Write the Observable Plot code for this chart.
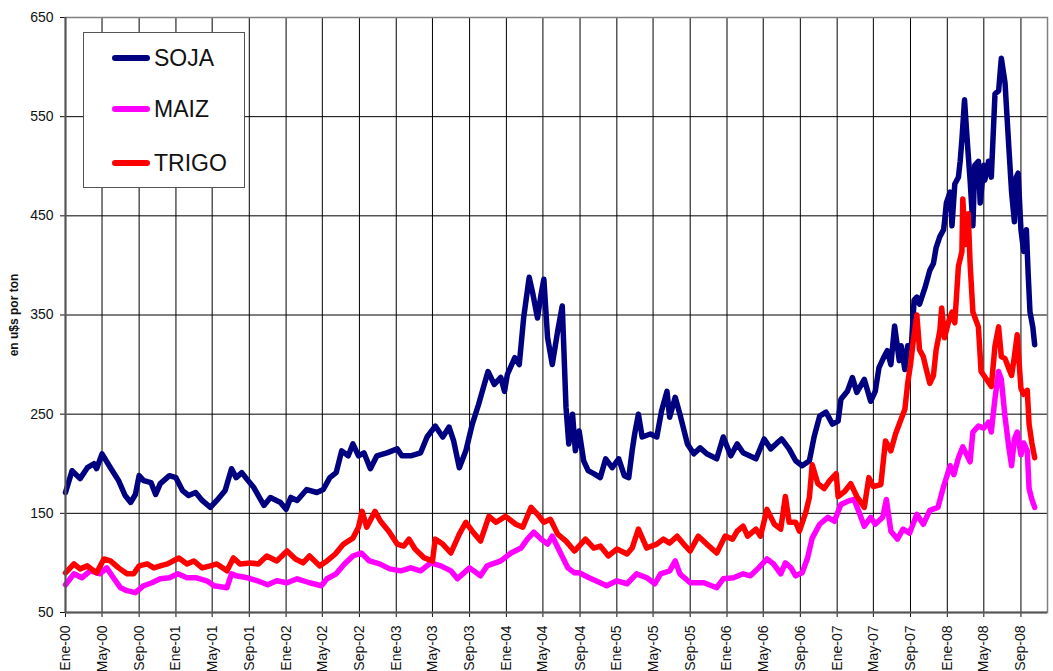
<!DOCTYPE html>
<html>
<head>
<meta charset="utf-8">
<script src="https://cdn.jsdelivr.net/npm/d3@7"></script>
<script src="https://cdn.jsdelivr.net/npm/@observablehq/plot@0.6"></script>
<style>
  body { margin: 0; background: #fff; }
  #wrap { position: relative; width: 1053px; height: 671px; font-family: "Liberation Sans", Arial, sans-serif; }
  #legend { position: absolute; left: 83px; top: 32px; width: 162px; height: 156px; border: 1px solid #555; background: #fff; box-sizing: border-box; }
  .item { position: absolute; left: 28px; height: 26px; display: flex; align-items: center; }
  .sw { width: 38px; height: 6px; border-radius: 3px; margin-right: 4px; }
  .lab { font-size: 23px; color: #111; }
</style>
</head>
<body>
<div id="wrap">
  <div id="chart"></div>
  <div id="legend"></div>
</div>
<script>
// ---- Data (months since Jan-2000, US$ per ton) ----
const seriesNames = ["SOJA", "MAIZ", "TRIGO"];
const seriesColors = ["#000080", "#FF00FF", "#FF0000"];

const sojaMonths = [0,0.7,1.6,2.4,3.1,3.4,4.0,4.9,5.8,6.5,7.1,7.6,8.0,8.5,9.3,9.8,10.3,11.3,12.0,12.7,13.4,14.2,14.9,15.8,16.5,17.4,18.1,18.6,19.2,19.7,20.5,21.6,22.3,23.4,24.0,24.5,25.2,26.3,27.4,28.1,28.8,29.5,30.1,30.8,31.3,31.9,32.5,33.2,33.9,35.0,36.1,36.6,37.6,38.7,39.4,40.3,41.1,41.8,42.3,42.9,43.6,44.3,45.0,45.6,46.0,46.7,47.4,47.8,48.1,48.9,49.4,49.9,50.5,50.9,51.4,51.8,52.1,52.5,53.0,53.6,54.1,54.5,54.8,55.2,55.5,55.9,56.4,56.9,57.5,58.2,58.8,59.5,60.2,60.8,61.3,61.7,62.0,62.4,62.8,63.7,64.4,64.9,65.5,65.8,66.4,66.9,67.7,68.4,69.1,69.8,70.9,71.6,72.4,73.1,73.8,75.2,76.1,76.8,77.5,78.0,78.8,79.5,80.2,81.0,81.5,82.1,82.8,83.5,84.1,84.4,85.1,85.7,86.2,87.0,87.7,88.2,88.6,89.1,89.5,89.9,90.3,90.8,91.0,91.4,91.7,92.1,92.4,92.7,93.0,93.6,94.1,94.5,94.8,95.2,95.6,95.7,95.9,96.3,96.5,96.8,97.2,97.4,97.6,97.9,98.1,98.3,98.5,98.8,99.0,99.4,99.6,100.0,100.1,100.5,100.8,101.2,101.6,101.9,102.3,102.7,103.0,103.3,103.5,103.7,104.0,104.3,104.6,104.8,105.0,105.3,105.5];
const sojaValues = [171,193,185,196,200,195,210,196,183,168,161,169,188,183,181,169,180,188,186,173,168,171,163,156,163,173,195,186,191,185,176,158,166,161,154,166,163,174,171,174,186,191,213,208,220,208,211,195,208,211,215,208,208,211,227,238,227,237,223,196,213,240,260,280,293,280,287,273,290,307,300,347,388,371,347,371,386,327,300,334,359,257,220,250,213,233,203,193,190,186,205,196,205,188,186,213,230,250,227,230,227,253,273,247,267,250,220,210,216,210,205,227,208,220,211,205,225,215,221,225,215,203,198,203,227,248,252,240,243,265,273,287,272,285,263,273,297,307,314,300,339,304,319,295,319,319,365,368,361,378,395,402,418,429,436,444,463,474,440,482,489,505,527,567,539,512,486,440,501,505,463,501,486,505,489,573,576,609,584,520,474,444,489,493,436,414,436,391,353,338,320];

const maizMonths = [0,0.9,1.8,2.7,3.8,4.5,5.3,6.0,6.7,7.6,8.5,9.4,10.3,11.3,12.2,13.2,14.3,15.4,16.2,17.6,18.1,18.6,19.8,20.9,22.0,23.0,24.1,25.2,26.6,27.9,28.5,29.5,30.4,31.3,32.2,33.1,34.2,35.3,36.5,37.6,38.7,39.8,40.9,42.0,42.7,44.0,45.2,45.9,47.4,48.5,49.6,50.3,51.0,51.8,52.5,53.0,53.8,54.7,55.4,55.9,57.0,58.2,58.9,60.0,61.1,62.2,63.3,64.2,64.8,65.8,66.4,66.9,68.0,69.5,70.9,71.6,72.7,73.8,74.6,75.5,76.4,77.1,77.9,78.4,79.0,79.5,80.2,80.8,81.3,82.1,83.0,83.7,84.4,85.1,85.9,86.4,87.0,87.7,88.2,89.0,89.4,89.9,90.6,91.2,91.9,92.7,93.4,94.1,95.0,95.6,96.3,96.7,97.2,97.7,98.3,98.5,98.8,99.4,100.0,100.5,100.8,101.2,101.6,101.9,102.3,102.7,103.0,103.3,103.6,104.0,104.3,104.7,104.9,105.2,105.5];
const maizValues = [78,89,85,92,89,95,84,75,72,70,77,80,84,85,89,85,85,82,77,75,89,87,85,82,78,82,80,84,80,77,84,89,99,107,110,102,99,94,92,95,92,100,97,92,84,95,87,97,102,110,115,124,131,124,119,127,112,95,90,90,85,80,77,82,79,89,85,79,89,92,102,89,80,80,75,84,85,89,87,95,104,99,89,100,95,87,90,105,125,139,146,142,159,162,164,152,137,146,139,146,164,132,124,134,130,149,139,153,156,177,198,189,206,217,206,202,232,238,236,242,232,266,293,285,247,217,198,225,232,209,221,213,175,164,156];

const trigoMonths = [0,0.9,1.6,2.4,3.4,4.2,4.9,5.8,6.7,7.4,8.0,8.9,9.6,10.3,11.1,12.3,13.2,14.0,14.9,15.8,16.5,17.6,18.3,19.0,20.1,21.0,21.9,23.0,24.1,25.0,25.9,26.6,27.7,28.5,29.4,30.3,31.3,31.9,32.3,32.8,33.7,34.3,35.2,36.1,36.8,37.4,38.1,39.1,40.0,40.3,41.1,42.0,42.9,43.6,44.3,45.2,46.1,46.9,47.9,49.0,49.8,50.7,51.4,52.1,52.8,53.6,54.5,55.4,56.6,57.5,58.2,59.1,60.0,61.1,61.7,62.4,63.3,64.4,65.1,65.8,66.6,67.3,68.0,68.9,69.8,70.9,71.8,72.6,73.1,73.8,74.3,75.2,75.7,76.4,77.2,77.9,78.4,78.8,79.5,79.9,80.6,81.0,81.3,81.9,82.6,83.2,83.9,84.1,84.8,85.5,86.2,87.0,87.5,88.0,88.8,89.3,89.9,90.4,90.8,91.4,91.7,92.0,92.3,92.7,93.0,93.4,93.7,94.1,94.5,94.8,95.2,95.4,95.7,96.1,96.5,96.8,97.2,97.6,97.7,98.0,98.3,98.5,98.8,99.4,99.7,100.3,100.8,101.2,101.6,101.9,102.3,102.7,103.0,103.3,103.6,104.0,104.3,104.7,104.9,105.2,105.5];
const trigoValues = [90,99,94,97,90,104,102,95,89,89,97,99,95,97,99,105,99,102,95,97,99,92,105,99,100,99,107,102,112,104,100,107,97,102,109,119,125,136,152,136,152,142,132,119,117,124,114,105,102,124,119,110,129,141,132,122,147,141,147,139,136,156,149,141,144,129,122,112,124,115,117,107,114,109,115,134,115,119,124,120,127,119,112,127,119,110,127,124,132,137,127,134,127,154,139,134,167,141,141,132,151,166,199,180,175,183,190,167,172,180,167,156,186,177,179,223,213,230,240,255,281,300,323,350,315,308,296,281,289,315,334,357,327,342,353,342,399,414,467,421,452,402,353,338,293,285,278,319,338,308,306,296,289,308,330,276,270,274,240,221,206];

const yTicks = [50, 150, 250, 350, 450, 550, 650];
const monthNames = ["Ene","Feb","Mar","Abr","May","Jun","Jul","Ago","Sep","Oct","Nov","Dic"];
const yLabel = "en u$s por ton";

// ---- Helpers ----
function mdate(m) {
  const i = Math.floor(m), f = m - i;
  const a = Date.UTC(2000, i, 1), b = Date.UTC(2000, i + 1, 1);
  return new Date(a + (b - a) * f);
}
function build(months, values) {
  return months.map((m, i) => ({date: mdate(m), value: values[i]}));
}
const sets = [build(sojaMonths, sojaValues), build(maizMonths, maizValues), build(trigoMonths, trigoValues)];
const tickDates = d3.utcMonth.every(4).range(new Date(Date.UTC(2000,0,1)), new Date(Date.UTC(2008,9,1)));
const fmt = d => monthNames[d.getUTCMonth()] + "-" + String(d.getUTCFullYear() % 100).padStart(2, "0");

const chart = Plot.plot({
  width: 1053,
  height: 671,
  marginLeft: 65,
  marginTop: 17,
  marginRight: 6,
  marginBottom: 59,
  style: {fontFamily: '"Liberation Sans", Arial, sans-serif', fontSize: "14px", color: "#111", background: "#fff"},
  x: {type: "utc", domain: [mdate(0), mdate(106.9)], ticks: tickDates, tickFormat: fmt, tickRotate: -90, tickSize: 5, tickPadding: 8, label: null},
  y: {domain: [50, 650], ticks: yTicks, tickSize: 5, tickPadding: 7, label: yLabel, labelAnchor: "center", labelArrow: "none", labelOffset: 56},
  marks: [
    Plot.ruleX(tickDates, {stroke: "#000", strokeWidth: 1}),
    Plot.ruleY(yTicks.slice(1, -1), {stroke: "#000", strokeWidth: 1}),
    Plot.frame({stroke: "#808080", strokeWidth: 1.5}),
    ...sets.map((s, k) => Plot.line(s, {x: "date", y: "value", stroke: seriesColors[k], strokeWidth: 5.5, strokeLinejoin: "round", strokeLinecap: "round"})),
    Plot.ruleX([mdate(0)], {stroke: "#555", strokeWidth: 2}),
    Plot.ruleY([50], {stroke: "#555", strokeWidth: 2})
  ]
});
document.getElementById("chart").appendChild(chart);
const yl = chart.querySelector('g[aria-label="y-axis label"]');
if (yl) { yl.setAttribute("font-weight", "bold"); yl.setAttribute("font-size", "12px"); }

// ---- Legend ----
const legend = document.getElementById("legend");
const tops = [12, 63, 117];
seriesNames.forEach((n, k) => {
  const it = document.createElement("div");
  it.className = "item";
  it.style.top = tops[k] + "px";
  it.innerHTML = `<div class="sw" style="background:${seriesColors[k]}"></div><span class="lab">${n}</span>`;
  legend.appendChild(it);
});
</script>
</body>
</html>
